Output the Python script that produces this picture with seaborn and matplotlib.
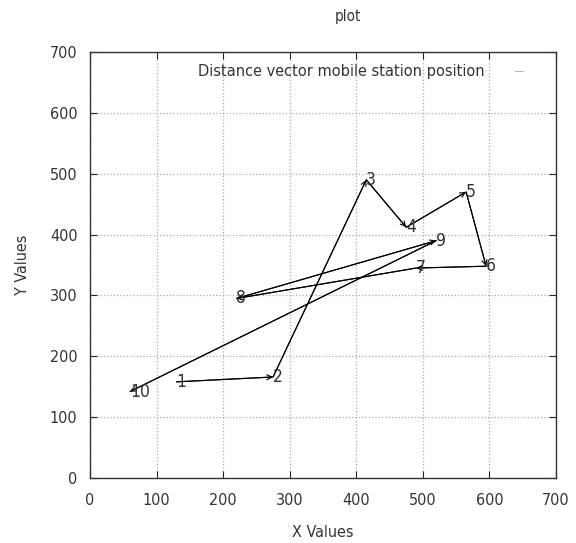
import matplotlib
matplotlib.use("Agg")
import matplotlib.pyplot as plt
import seaborn as sns
import pandas as pd
from matplotlib.lines import Line2D

# station positions, visited in order 1..10
station = [1, 2, 3, 4, 5, 6, 7, 8, 9, 10]
x_pos = [130, 275, 415, 475, 565, 595, 490, 220, 520, 60]
y_pos = [158, 166, 490, 412, 470, 348, 345, 295, 390, 142]

df = pd.DataFrame({"station": station, "x": x_pos, "y": y_pos})

sns.set_style("ticks")
plt.rcParams["font.family"] = ["DejaVu Sans"]
plt.rcParams["font.stretch"] = "condensed"

fig = plt.figure(figsize=(5.76, 5.43), dpi=100)
ax = fig.add_axes([90 / 576, 65 / 543, 466 / 576, 426 / 543])

sns.lineplot(data=df, x="x", y="y", sort=False, estimator=None,
             color="black", linewidth=0.8, ax=ax)

# arrow heads along the path
for i in range(1, len(df)):
    ax.annotate("", xy=(df.x[i], df.y[i]), xytext=(df.x[i - 1], df.y[i - 1]),
                arrowprops=dict(arrowstyle="->", color="black", lw=0.8,
                                mutation_scale=9, shrinkA=0, shrinkB=0))

for s, x, y in zip(df.station, df.x, df.y):
    ax.text(x, y, str(s), ha="left", va="center", fontsize=12.5, color="#333333")

ax.set_xlim(0, 700)
ax.set_ylim(0, 700)
ax.set_xticks(range(0, 701, 100))
ax.set_yticks(range(0, 701, 100))
ax.grid(True, linestyle=":", color="#aaaaaa", linewidth=0.9)
ax.tick_params(direction="in", top=True, right=True, length=5,
               labelsize=11.5, labelcolor="#333333")
ax.tick_params(axis="x", pad=11)
ax.tick_params(axis="y", pad=9)
for sp in ax.spines.values():
    sp.set_linewidth(1.0)
    sp.set_color("#333333")
    sp.set_visible(True)

ax.set_xlabel("X Values", fontsize=11.5, color="#333333", labelpad=12)
ax.set_ylabel("Y Values", fontsize=11.5, color="#333333", labelpad=14)
ax.set_title("plot", fontsize=11, color="#333333", x=0.554, pad=22)

handle = Line2D([], [], color="#ff9999", linewidth=0.8)
ax.legend([handle], ["Distance vector mobile station position"],
          loc="upper right", bbox_to_anchor=(0.96, 1.005), frameon=False,
          markerfirst=False, handlelength=0.5, fontsize=11.7,
          labelcolor="#333333", handletextpad=1.85)

fig.savefig("out.png", dpi=100)
